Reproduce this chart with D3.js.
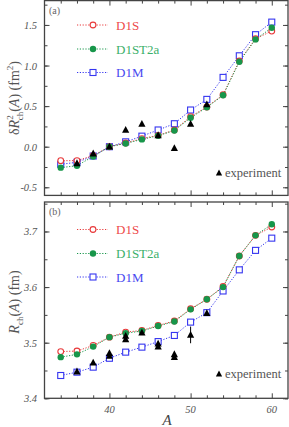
<!DOCTYPE html>
<html>
<head>
<meta charset="utf-8">
<script src="https://cdn.jsdelivr.net/npm/d3@7"></script>
<style>
  body { margin: 0; background: #fff; }
  svg text { font-family: "Liberation Serif", "DejaVu Serif", serif; }
</style>
</head>
<body>
<svg id="chart" width="289" height="427"></svg>
<script>
// mass numbers
var massA = [34, 36, 38, 40, 42, 44, 46, 48, 50, 52, 54, 56, 58, 60];

// panel (a): delta r^2 (fm^2)
var d1sA    = [-0.172, -0.172, -0.11, 0, 0.045, 0.10, 0.14, 0.205, 0.37, 0.49, 0.64, 1.055, 1.33, 1.425];
var d1st2aA = [-0.258, -0.234, -0.12, 0, 0.04, 0.09, 0.135, 0.20, 0.357, 0.485, 0.633, 1.047, 1.322, 1.466];
var d1mA    = [-0.217, -0.192, -0.115, 0, 0.06, 0.13, 0.206, 0.283, 0.452, 0.583, 0.854, 1.12, 1.38, 1.535];
var expMassA = [36, 38, 40, 42, 44, 46, 48, 50, 52];
var expA     = [-0.205, -0.085, 0, 0.205, 0.28, 0.14, -0.02, 0.28, 0.52];

// panel (b): charge radius (fm)
var d1sB    = [3.484, 3.485, 3.495, 3.51, 3.519, 3.522, 3.531, 3.539, 3.561, 3.578, 3.601, 3.656, 3.693, 3.708];
var d1st2aB = [3.474, 3.479, 3.493, 3.51, 3.517, 3.521, 3.530, 3.538, 3.560, 3.578, 3.600, 3.656, 3.693, 3.713];
var d1mB    = [3.441, 3.447, 3.456, 3.472, 3.483, 3.492, 3.502, 3.513, 3.537, 3.554, 3.593, 3.631, 3.666, 3.688];
var expMassB = [36, 38, 40, 40, 42, 42, 44, 46, 46, 48, 48, 50, 52];
var expB     = [3.448, 3.464, 3.476, 3.481, 3.506, 3.512, 3.518, 3.493, 3.498, 3.474, 3.479, 3.514, 3.553];
var expErrB  = [0, 0, 0, 0, 0, 0, 0, 0, 0, 0, 0, 0.015, 0];

// tick labels
var xTickLabels = [40, 50, 60];
var yTicksA = [-0.5, 0.0, 0.5, 1.0, 1.5];
var yTicksB = [3.4, 3.5, 3.6, 3.7];

var colors = { d1s: '#e8393a', d1st2a: '#17964a', d1m: '#3535f0' };
var textColors = { d1s: '#ee4a4a', d1st2a: '#3cb06a', d1m: '#4848f0' };

var svg = d3.select('#chart');

var x = d3.scaleLinear().domain([32, 62]).range([44.5, 288]);

var panels = [
  { label: '(a)', y: d3.scaleLinear().domain([-0.6, 1.8]).range([195.4, 0.6]),
    minor: d3.range(-0.5, 1.76, 0.25), major: yTicksA,
    series: [d1mA, d1sA, d1st2aA], expX: expMassA, exp: expA, err: null,
    legendY: [25, 49, 72.5], expY: 173 },
  { label: '(b)', y: d3.scaleLinear().domain([3.4, 3.753]).range([398.3, 202]),
    minor: d3.range(3.4, 3.751, 0.05), major: yTicksB,
    series: [d1mB, d1sB, d1st2aB], expX: expMassB, exp: expB, err: expErrB,
    legendY: [229.5, 253.5, 277], expY: 374 }
];

var keys = ['d1m', 'd1s', 'd1st2a'];
var fmt = function (d) { return d.toFixed(1); };

function drawMarker(g, key, cx, cy) {
  if (key === 'd1s') {
    g.append('circle').attr('cx', cx).attr('cy', cy).attr('r', 2.9)
      .attr('fill', '#fff').attr('stroke', colors.d1s).attr('stroke-width', 1.1);
  } else if (key === 'd1st2a') {
    g.append('circle').attr('cx', cx).attr('cy', cy).attr('r', 3.2)
      .attr('fill', colors.d1st2a);
  } else {
    g.append('rect').attr('x', cx - 3).attr('y', cy - 3).attr('width', 6).attr('height', 6)
      .attr('fill', '#fff').attr('stroke', colors.d1m).attr('stroke-width', 1.1);
  }
}

function drawTriangle(g, cx, cy, s) {
  g.append('path')
    .attr('d', 'M' + cx + ',' + (cy - s) + 'L' + (cx + s * 0.9) + ',' + (cy + s * 0.7) + 'L' + (cx - s * 0.9) + ',' + (cy + s * 0.7) + 'Z')
    .attr('fill', '#000');
}

panels.forEach(function (p, pi) {
  var y = p.y;
  var g = svg.append('g');
  var x0 = x.range()[0], x1 = x.range()[1], y0 = y.range()[0], y1 = y.range()[1];

  // ticks on all four sides, pointing inward
  var xMinor = d3.range(34, 61, 2).filter(function (d) { return d % 10 !== 0; });
  var xMajor = [40, 50, 60];
  function addAxis(axis, tx, ty) {
    g.append('g').attr('transform', 'translate(' + tx + ',' + ty + ')').call(axis)
      .call(function (s) { s.select('.domain').remove(); s.selectAll('line').attr('stroke', '#444').attr('stroke-width', 1); });
  }
  addAxis(d3.axisBottom(x).tickValues(xMinor).tickSize(-3).tickFormat(''), 0, y0);
  addAxis(d3.axisBottom(x).tickValues(xMajor).tickSize(-5).tickFormat(''), 0, y0);
  addAxis(d3.axisTop(x).tickValues(xMinor).tickSize(-3).tickFormat(''), 0, y1);
  addAxis(d3.axisTop(x).tickValues(xMajor).tickSize(-5).tickFormat(''), 0, y1);
  addAxis(d3.axisLeft(y).tickValues(p.minor).tickSize(-3).tickFormat(''), x0, 0);
  addAxis(d3.axisLeft(y).tickValues(p.major).tickSize(-5).tickFormat(''), x0, 0);
  addAxis(d3.axisRight(y).tickValues(p.minor).tickSize(-3).tickFormat(''), x1, 0);
  addAxis(d3.axisRight(y).tickValues(p.major).tickSize(-5).tickFormat(''), x1, 0);

  // frame
  g.append('rect').attr('x', x0).attr('y', y1).attr('width', x1 - x0).attr('height', y0 - y1)
    .attr('fill', 'none').attr('stroke', '#444').attr('stroke-width', 1.3);

  // y tick labels
  g.selectAll('.ylab').data(p.major).enter().append('text')
    .attr('x', 37).attr('y', function (d) { return y(d) + 4; })
    .attr('text-anchor', 'end').attr('font-size', 10.5).attr('font-style', 'italic')
    .attr('fill', '#555').text(fmt);

  // panel label
  g.append('text').attr('x', 49).attr('y', y1 + 13).attr('font-size', 10).attr('fill', '#666').text(p.label);

  // series lines and markers
  p.series.forEach(function (vals, si) {
    var key = keys[si];
    var line = d3.line().x(function (d, i) { return x(massA[i]); }).y(function (d) { return y(d); });
    g.append('path').datum(vals).attr('d', line).attr('fill', 'none')
      .attr('stroke', colors[key]).attr('stroke-width', 1).attr('stroke-dasharray', '1.2,1.6');
  });
  p.series.forEach(function (vals, si) {
    var key = keys[si];
    vals.forEach(function (v, i) { drawMarker(g, key, x(massA[i]), y(v)); });
  });

  // experiment
  p.exp.forEach(function (v, i) {
    var cx = x(p.expX[i]), cy = y(v);
    if (p.err && p.err[i] > 0) {
      g.append('line').attr('x1', cx).attr('x2', cx).attr('y1', y(v - p.err[i])).attr('y2', y(v + p.err[i]))
        .attr('stroke', '#000').attr('stroke-width', 1);
    }
    drawTriangle(g, cx, cy, 4);
  });

  // legend
  var legendKeys = ['d1s', 'd1st2a', 'd1m'];
  var legendNames = ['D1S', 'D1ST2a', 'D1M'];
  legendKeys.forEach(function (key, li) {
    var ly = p.legendY[li];
    g.append('line').attr('x1', 77).attr('x2', 108).attr('y1', ly).attr('y2', ly)
      .attr('stroke', colors[key]).attr('stroke-width', 1).attr('stroke-dasharray', '1.2,1.6');
    drawMarker(g, key, 93, ly);
    g.append('text').attr('x', 116).attr('y', ly + 4.5).attr('font-size', 13)
      .attr('fill', textColors[key]).text(legendNames[li]);
  });
  drawTriangle(g, 219, p.expY, 3.5);
  g.append('text').attr('x', 225).attr('y', p.expY + 3.5).attr('font-size', 12.5)
    .attr('fill', '#555').text('experiment');
});

// x tick labels (bottom panel only)
svg.selectAll('.xlab').data(xTickLabels).enter().append('text')
  .attr('x', function (d) { return x(d); }).attr('y', 413)
  .attr('text-anchor', 'middle').attr('font-size', 10.5).attr('font-style', 'italic')
  .attr('fill', '#555').text(function (d) { return d; });

// x axis title
svg.append('text').attr('x', 167).attr('y', 425).attr('text-anchor', 'middle')
  .attr('font-size', 15).attr('font-style', 'italic').attr('fill', '#444').text('A');

// y axis titles
var ta = svg.append('text').attr('transform', 'translate(19,98) rotate(-90)')
  .attr('text-anchor', 'middle').attr('font-size', 14).attr('fill', '#555');
ta.append('tspan').text('δ');
ta.append('tspan').attr('font-style', 'italic').text('R');
ta.append('tspan').attr('font-size', 9).attr('dy', -6).text('2');
ta.append('tspan').attr('font-size', 9).attr('dx', -5).attr('dy', 10).text('ch');
ta.append('tspan').attr('dy', -4).text('(');
ta.append('tspan').attr('font-style', 'italic').text('A');
ta.append('tspan').text(') (fm');
ta.append('tspan').attr('font-size', 9).attr('dy', -6).text('2');
ta.append('tspan').attr('dy', 6).text(')');

var tb = svg.append('text').attr('transform', 'translate(19,302) rotate(-90)')
  .attr('text-anchor', 'middle').attr('font-size', 14).attr('fill', '#555');
tb.append('tspan').attr('font-style', 'italic').text('R');
tb.append('tspan').attr('font-size', 9).attr('dy', 4).text('ch');
tb.append('tspan').attr('dy', -4).text('(');
tb.append('tspan').attr('font-style', 'italic').text('A');
tb.append('tspan').text(') (fm)');
</script>
</body>
</html>
